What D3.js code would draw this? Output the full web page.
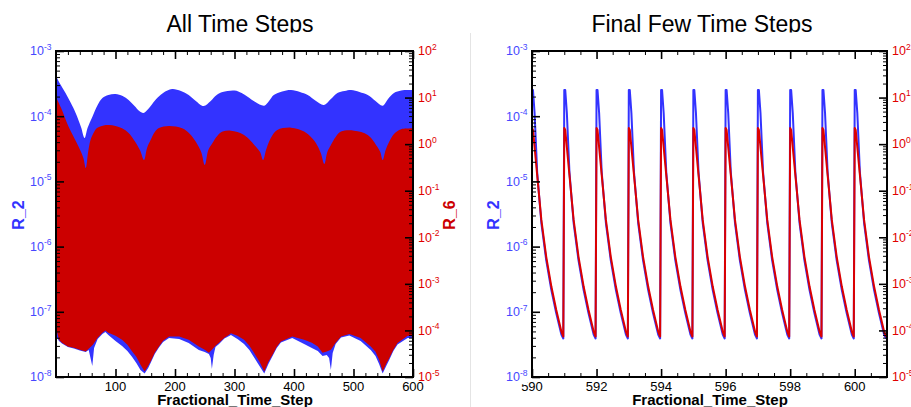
<!DOCTYPE html>
<html><head><meta charset="utf-8">
<script src="https://cdn.jsdelivr.net/npm/d3@7"></script>
<style>body{margin:0;background:#fff}svg{display:block}</style>
</head><body>
<svg id="c" width="911" height="407"></svg>
<script>
// ---------------- DATA ----------------
// Left panel: envelopes of the densely oscillating R_2 (left axis) and R_6 (right axis)
const r2TopSteps = [0,8,16,25,33,42,48,53,61,70,78,88,100,112,122,132,140,147,155,167,180,195,210,223,235,248,260,270,280,300,312,322,335,350,358,366,380,395,410,423,437,450,462,473,485,496,510,524,537,549,558,568,580,591,600];
const r2TopVals  = [4.14e-4,3.01e-4,2.27e-4,1.59e-4,1.12e-4,6.83e-5,4.63e-5,6.59e-5,9.72e-5,1.49e-4,1.90e-4,2.11e-4,2.19e-4,2.04e-4,1.77e-4,1.43e-4,1.20e-4,1.12e-4,1.29e-4,1.77e-4,2.27e-4,2.61e-4,2.43e-4,2.11e-4,1.71e-4,1.43e-4,1.71e-4,2.11e-4,2.35e-4,2.48e-4,2.27e-4,1.99e-4,1.65e-4,1.45e-4,1.71e-4,2.11e-4,2.39e-4,2.52e-4,2.35e-4,2.11e-4,1.71e-4,1.49e-4,1.84e-4,2.27e-4,2.43e-4,2.52e-4,2.35e-4,2.11e-4,1.71e-4,1.45e-4,1.84e-4,2.27e-4,2.48e-4,2.52e-4,2.52e-4];
const r2BotSteps = [0,5,10,20,30,40,50,55,58,61,64,70,78,83,88,100,111,120,128,135,142,149,155,159,166,173,180,190,207,223,240,250,257,260,262,265,268,274,283,291,294,305,316,325,333,342,350,357,364,371,378,397,417,430,440,448,455,459,462,465,470,479,493,512,529,537,543,549,555,560,567,574,591,600];
const r2BotVals  = [4.26e-8,3.57e-8,3.27e-8,2.88e-8,2.74e-8,2.55e-8,2.42e-8,2.60e-8,1.96e-8,1.47e-8,2.78e-8,3.83e-8,4.57e-8,4.90e-8,4.41e-8,3.57e-8,2.99e-8,2.51e-8,2.03e-8,1.64e-8,1.28e-8,1.13e-8,1.37e-8,1.64e-8,2.25e-8,2.84e-8,3.44e-8,3.97e-8,3.83e-8,3.32e-8,2.60e-8,2.42e-8,2.25e-8,1.96e-8,1.33e-8,2.18e-8,2.88e-8,3.21e-8,3.90e-8,4.26e-8,4.41e-8,3.83e-8,3.21e-8,2.60e-8,1.99e-8,1.47e-8,1.13e-8,1.58e-8,2.10e-8,2.78e-8,3.38e-8,3.97e-8,3.21e-8,2.78e-8,2.51e-8,2.10e-8,2.18e-8,1.96e-8,1.28e-8,2.33e-8,3.21e-8,4.04e-8,4.33e-8,3.57e-8,2.60e-8,2.10e-8,1.58e-8,1.13e-8,1.47e-8,1.82e-8,2.51e-8,3.15e-8,3.97e-8,3.97e-8];
const r6TopSteps = [0,10,21,38,46,50,54,58,64,69,80,89,100,111,122,131,141,148,153,159,166,173,190,212,225,235,244,250,256,263,271,280,294,316,336,343,348,353,358,364,372,395,417,430,437,445,451,456,462,470,479,501,524,540,545,549,554,560,568,580,597,600];
const r6TopVals  = [10.3,5.42,2.38,0.884,0.506,0.309,0.680,1.23,1.83,2.23,2.52,2.58,2.46,2.19,1.74,1.23,0.751,0.458,0.829,1.23,1.83,2.23,2.46,2.19,1.66,1.13,0.680,0.358,0.751,1.06,1.50,1.86,1.95,1.58,0.884,0.680,0.458,0.751,1.13,1.58,2.02,2.26,1.86,1.36,1.05,0.648,0.376,0.680,0.961,1.43,1.86,1.95,1.58,0.884,0.680,0.458,0.751,1.13,1.66,2.09,2.19,2.23];
const r6BotSteps = [0,5,10,20,30,40,50,55,62,70,78,83,88,100,111,120,128,135,142,149,155,159,166,173,180,190,207,223,240,250,257,262,268,274,283,291,294,305,316,325,333,342,350,357,364,371,378,397,417,430,440,448,455,462,470,479,493,512,529,537,543,549,555,560,567,574,591,600];
const r6BotVals  = [1.14e-4,6.29e-5,5.42e-5,4.51e-5,4.23e-5,3.84e-5,3.53e-5,4.03e-5,4.91e-5,6.94e-5,8.88e-5,9.95e-5,8.88e-5,7.66e-5,6.29e-5,4.91e-5,3.53e-5,2.71e-5,1.83e-5,1.31e-5,1.74e-5,2.15e-5,3.31e-5,4.51e-5,5.98e-5,7.40e-5,7.40e-5,6.29e-5,4.51e-5,3.84e-5,3.31e-5,3.84e-5,4.67e-5,5.42e-5,6.94e-5,8.04e-5,8.75e-5,7.66e-5,6.29e-5,4.67e-5,3.26e-5,2.12e-5,1.31e-5,2.12e-5,3.00e-5,4.45e-5,5.78e-5,7.40e-5,6.29e-5,5.42e-5,4.51e-5,3.31e-5,3.53e-5,3.84e-5,5.42e-5,7.40e-5,8.33e-5,6.84e-5,4.51e-5,3.47e-5,2.34e-5,1.31e-5,1.92e-5,2.54e-5,3.84e-5,5.34e-5,7.66e-5,7.40e-5];

// Right panel: one sawtooth cycle per time step (fraction of step -> value)
const cycleStarts = [590,591,592,593,594,595,596,597,598,599,600];
const r2CycleFrac = [0,0.03,0.08,0.16,0.29,0.44,0.60,0.75,0.91,0.97];
const r2CycleVals = [2.52e-4,2.52e-4,1.12e-4,1.39e-5,2.30e-6,6.22e-7,2.16e-7,9.59e-8,4.49e-8,3.90e-8];
const r6CycleFrac = [0,0.03,0.16,0.29,0.44,0.60,0.75,0.91,0.97];
const r6CycleVals = [2.23,2.02,0.218,0.0236,3.85e-3,8.75e-4,2.77e-4,9.46e-5,7.4e-5];

// Axis tick values / labels
const leftExps  = [-3,-4,-5,-6,-7,-8];
const rightExps = [2,1,0,-1,-2,-3,-4,-5];
const allXMajor = [100,200,300,400,500,600];
const finalXMajor = [590,592,594,596,598,600];
const titles = ["All Time Steps","Final Few Time Steps"];
const xTitle = "Fractional_Time_Step";
const r2Name = "R_2", r6Name = "R_6";

// ---------------- DRAW ----------------
const svg = d3.select('#c');
const FONT = '"Liberation Sans", Arial, Helvetica, sans-serif';
const BLUE = '#3333ff', RED = '#cc0000', LBLUE = '#4747ff', LRED = '#e00000', LINE_RED = '#dc0000';

function minorLog(e0, e1){
  const out=[];
  for(let e=e0;e<e1;e++) for(let k=2;k<=9;k++) out.push(k*Math.pow(10,e));
  return out;
}
function range(a,b,s){const o=[];for(let v=a;v<=b+1e-9;v+=s)o.push(+v.toFixed(4));return o;}

svg.append('line').attr('x1',470.5).attr('x2',470.5).attr('y1',33).attr('y2',407)
  .attr('stroke','#e4e4e4').attr('stroke-width',1);

function drawPanel(cfg){
  const {x0,x1,y0,y1} = cfg.box;
  const x = d3.scaleLinear().domain(cfg.xDomain).range([x0,x1]);
  const yL = d3.scaleLog().domain([1e-8,1e-3]).range([y1,y0]);
  const yR = d3.scaleLog().domain([1e-5,1e2]).range([y1,y0]);
  const clipId = 'clip'+cfg.id;
  svg.append('clipPath').attr('id',clipId).append('rect')
    .attr('x',x0).attr('y',y0).attr('width',x1-x0).attr('height',y1-y0);
  const plot = svg.append('g').attr('clip-path',`url(#${clipId})`);
  cfg.drawData(plot,x,yL,yR);

  // frame
  svg.append('rect').attr('x',x0).attr('y',y0).attr('width',x1-x0).attr('height',y1-y0)
    .attr('fill','none').attr('stroke','#000').attr('stroke-width',2);

  const tickG = svg.append('g');
  function ax(gen, tx, ty, vals, size, sw){
    const a = gen.tickValues(vals).tickSize(size).tickFormat('');
    const g = tickG.append('g').attr('transform',`translate(${tx},${ty})`).call(a);
    g.select('.domain').remove();
    g.selectAll('.tick line').attr('stroke','#000').attr('stroke-width',sw);
  }
  ax(d3.axisBottom(x), 0, y1, cfg.xMajor, -8, 1.6);
  ax(d3.axisBottom(x), 0, y1, cfg.xMinor, -4, 1);
  ax(d3.axisTop(x), 0, y0, cfg.xMajor, -8, 1.6);
  ax(d3.axisTop(x), 0, y0, cfg.xMinor, -4, 1);
  ax(d3.axisLeft(yL), x0, 0, leftExps.map(e=>Math.pow(10,e)), -8, 1.6);
  ax(d3.axisLeft(yL), x0, 0, minorLog(-8,-3), -4, 1);
  ax(d3.axisRight(yR), x1, 0, rightExps.map(e=>Math.pow(10,e)), -8, 1.6);
  ax(d3.axisRight(yR), x1, 0, minorLog(-5,2), -4, 1);

  // x tick labels
  svg.append('g').selectAll('text').data(cfg.xMajor).join('text')
    .attr('x',d=>x(d)).attr('y',y1+13.8).attr('text-anchor','middle')
    .attr('font-family',FONT).attr('font-size',13).attr('fill','#000').text(d=>d);

  // log labels
  function logLabel(g, e, xx, yy, anchor, color){
    const t = g.append('text').attr('x',xx).attr('y',yy+4.3).attr('text-anchor',anchor)
      .attr('font-family',FONT).attr('fill',color);
    t.append('tspan').attr('font-size',12.5).text('10');
    t.append('tspan').attr('font-size',8.5).attr('dy',-5.5).text(e<0?('-'+(-e)):String(e));
    return t;
  }
  const lg = svg.append('g');
  leftExps.forEach(e=>{
    const t = logLabel(lg, e, x0-4.5, yL(Math.pow(10,e)), 'end', LBLUE);
    if(cfg.labelBg){
      const bb = t.node().getBBox();
      lg.insert('rect','text').attr('x',bb.x).attr('y',bb.y).attr('width',bb.width).attr('height',bb.height).attr('fill','#fff');
    }
  });
  const rg = svg.append('g');
  rightExps.forEach(e=>logLabel(rg, e, x1+5, yR(Math.pow(10,e)), 'start', LRED));

  // titles
  svg.append('text').attr('x',cfg.titleX).attr('y',32).attr('text-anchor','middle')
    .attr('font-family',FONT).attr('font-size',23).attr('fill','#000')
    .attr('clip-path','url(#titleClip)').text(cfg.title);
  svg.append('text').attr('x',(x0+x1)/2+0.5).attr('y',405).attr('text-anchor','middle')
    .attr('font-family',FONT).attr('font-weight','bold').attr('font-size',15).attr('fill','#000').text(xTitle);
  svg.append('text').attr('transform',`translate(${cfg.r2X},${(y0+y1)/2+1}) rotate(-90)`)
    .attr('text-anchor','middle').attr('dominant-baseline','central')
    .attr('font-family',FONT).attr('font-weight','bold').attr('font-size',16).attr('fill',BLUE).text(r2Name);
  svg.append('text').attr('transform',`translate(${cfg.r6X},${(y0+y1)/2+1}) rotate(-90)`)
    .attr('text-anchor','middle').attr('dominant-baseline','central')
    .attr('font-family',FONT).attr('font-weight','bold').attr('font-size',16).attr('fill',RED).text(r6Name);
}

svg.append('clipPath').attr('id','titleClip').append('rect').attr('x',0).attr('y',0).attr('width',911).attr('height',32.5);

function bandPath(x, yScale, topS, topV, botS, botV, topCurve){
  const topPts = topS.map((s,i)=>[x(s), yScale(topV[i])]);
  const botPts = botS.map((s,i)=>[x(s), yScale(botV[i])]).reverse();
  const a = d3.line().curve(topCurve)(topPts);
  const b = d3.line().curve(d3.curveLinear)(botPts);
  return a + 'L' + b.slice(1) + 'Z';
}

drawPanel({
  id:'L', box:{x0:56,x1:413,y0:51,y1:377}, xDomain:[0,600],
  xMajor:allXMajor, xMinor:range(20,580,20).filter(v=>v%100!==0),
  title:titles[0], titleX:240, r2X:18, r6X:449,
  drawData:(g,x,yL,yR)=>{
    g.append('path').attr('d',bandPath(x,yL,r2TopSteps,r2TopVals,r2BotSteps,r2BotVals,d3.curveCatmullRom.alpha(0.5)))
      .attr('fill',BLUE);
    g.append('path').attr('d',bandPath(x,yR,r6TopSteps,r6TopVals,r6BotSteps,r6BotVals,d3.curveCatmullRom.alpha(0.5)))
      .attr('fill',RED);
  }
});

drawPanel({
  id:'R', box:{x0:532,x1:887,y0:51,y1:377}, xDomain:[590,601],
  xMajor:finalXMajor, xMinor:range(590.5,600.5,0.5).filter(v=>!(Math.abs(v%2)<1e-6)),
  title:titles[1], titleX:702, r2X:493, r6X:925, labelBg:true,
  drawData:(g,x,yL,yR)=>{
    const r2Pts=[], r6Pts=[];
    cycleStarts.forEach(s=>{
      r2CycleFrac.forEach((f,i)=>r2Pts.push([s+f, r2CycleVals[i]]));
      r6CycleFrac.forEach((f,i)=>r6Pts.push([s+f, r6CycleVals[i]]));
    });
    g.append('path').attr('d',d3.line().x(d=>x(d[0])).y(d=>yL(d[1])).curve(d3.curveLinear)(r2Pts))
      .attr('fill','none').attr('stroke',BLUE).attr('stroke-width',2).attr('stroke-linejoin','round');
    g.append('path').attr('d',d3.line().x(d=>x(d[0])).y(d=>yR(d[1])).curve(d3.curveLinear)(r6Pts))
      .attr('fill','none').attr('stroke',LINE_RED).attr('stroke-width',2).attr('stroke-linejoin','round');
  }
});
</script>
</body></html>
